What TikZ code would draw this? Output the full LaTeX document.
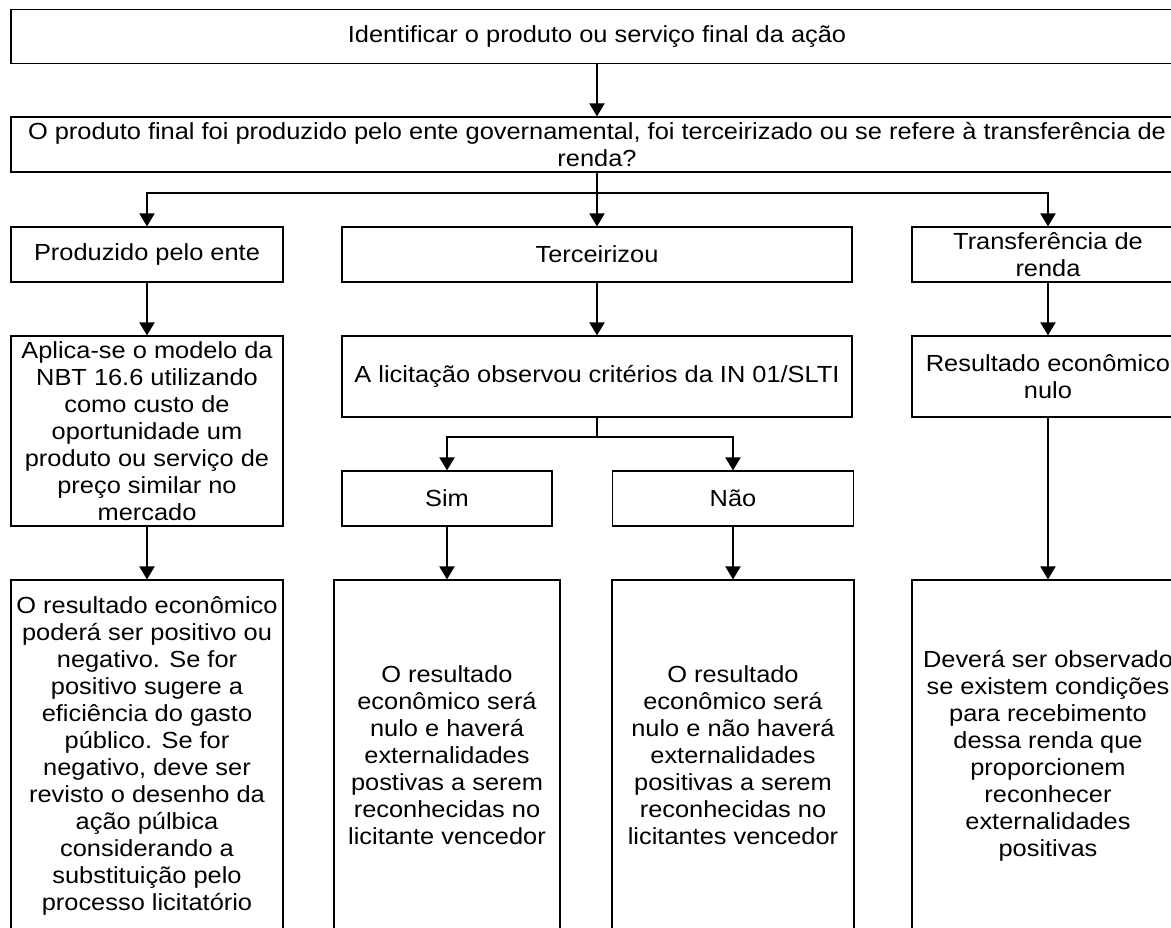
\documentclass[tikz,border=0pt]{standalone}
\usepackage{fontspec}
\setmainfont{Liberation Sans}[FakeStretch=1.09]
\usetikzlibrary{arrows.meta}

\begin{document}
\begin{tikzpicture}[x=1pt,y=-1pt,>={Triangle[width=15pt,length=13pt]},
        box node/.style={rectangle,draw,line width=1.1pt,inner sep=0pt,align=center,font=\fontsize{23.3pt}{27pt}\selectfont},
        link/.style={line width=2pt}]

                    \useasboundingbox (0,0) rectangle (1171,928);
                    \fill[white] (0,0) rectangle (1171,928);
                    \clip (0,0) rectangle (1171,928);

                    % pergunta inicial
                    \node[box node, minimum width=1172pt, minimum height=53.5pt] (1) at (597,36.5) {Identificar o produto ou serviço final da ação};
                    \node[box node, minimum width=1172pt, minimum height=55pt] (2) at (597,144.5) {O produto final foi produzido pelo ente governamental, foi terceirizado ou se refere à transferência de\\renda?};

                    % tres casos
                    \node[box node, minimum width=272pt, minimum height=55pt] (3) at (147,254.5) {Produzido pelo ente};
                    \node[box node, minimum width=510pt, minimum height=55pt] (4) at (597,254.5) {Terceirizou};
                    \node[box node, minimum width=272pt, minimum height=55pt] (5) at (1048,254.5) {Transferência de\\renda};

                    \node[box node, minimum width=272pt, minimum height=190pt] (6) at (147,431) {Aplica-se o modelo da\\NBT 16.6 utilizando\\como custo de\\oportunidade um\\produto ou serviço de\\preço similar no\\mercado};
                    \node[box node, minimum width=510pt, minimum height=81pt] (7) at (597,376.5) {A licitação observou critérios da IN 01/SLTI};
                    \node[box node, minimum width=272pt, minimum height=81pt] (8) at (1048,376.5) {Resultado econômico\\nulo};

                    \node[box node, minimum width=210pt, minimum height=55pt] (9) at (447,498.5) {Sim};
                    \node[box node, minimum width=241pt, minimum height=55pt] (10) at (733,498.5) {Não};

                    % resultados
                    \node[box node, minimum width=272pt, minimum height=351pt] (11) at (147,755.5) {O resultado econômico\\poderá ser positivo ou\\negativo. Se for\\positivo sugere a\\eficiência do gasto\\público. Se for\\negativo, deve ser\\revisto o desenho da\\ação púlbica\\considerando a\\substituição pelo\\processo licitatório};
                    \node[box node, minimum width=226pt, minimum height=351pt] (12) at (447,755.5) {O resultado\\econômico será\\nulo e haverá\\externalidades\\postivas a serem\\reconhecidas no\\licitante vencedor};
                    \node[box node, minimum width=242pt, minimum height=351pt] (13) at (733,755.5) {O resultado\\econômico será\\nulo e não haverá\\externalidades\\positivas a serem\\reconhecidas no\\licitantes vencedor};
                    \node[box node, minimum width=272pt, minimum height=351pt] (14) at (1048,755.5) {Deverá ser observado\\se existem condições\\para recebimento\\dessa renda que\\proporcionem\\reconhecer\\externalidades\\positivas};

                    \coordinate (a) at (597,193);
                    \coordinate (b) at (597,437);

                    \draw[link,->] (1) to (2);
                    \draw[link] (2) to (a);
                    \draw[link,->] (a) -| (3);
                    \draw[link,->] (a) to (4);
                    \draw[link,->] (a) -| (5);
                    \draw[link,->] (3) to (6);
                    \draw[link,->] (4) to (7);
                    \draw[link,->] (5) to (8);
                    \draw[link] (7) to (b);
                    \draw[link,->] (b) -| (9);
                    \draw[link,->] (b) -| (10);
                    \draw[link,->] (6) to (11);
                    \draw[link,->] (9) to (12);
                    \draw[link,->] (10) to (13);
                    \draw[link,->] (8) to (14);

                    ;
                \end{tikzpicture}
\end{document}
